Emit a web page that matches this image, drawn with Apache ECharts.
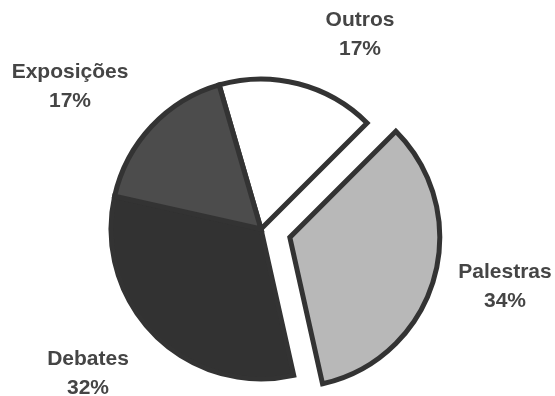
<!DOCTYPE html>
<html>
<head>
<meta charset="utf-8">
<script src="https://cdn.jsdelivr.net/npm/echarts@6/dist/echarts.min.js"></script>
<style>html,body{margin:0;padding:0;background:#fff}#c{width:555px;height:396px}</style>
</head>
<body>
<div id="c"></div>
<script>
var categories = ['Outros', 'Palestras', 'Debates', 'Exposições'];
var values = [17, 34, 32, 17];
var fills = ['#ffffff', '#b8b8b8', '#323232', '#4c4c4c'];
var labelPos = [[360, 35], [505, 287], [88, 374], [70, 87]];

var chart = echarts.init(document.getElementById('c'), null, {renderer: 'canvas'});
var total = values.reduce(function (a, b) { return a + b; }, 0);
var data = categories.map(function (c, i) {
  return {
    name: c,
    value: values[i],
    selected: c === 'Palestras',
    itemStyle: {color: fills[i]}
  };
});
var labels = categories.map(function (c, i) {
  return {
    type: 'text',
    x: labelPos[i][0],
    y: labelPos[i][1],
    style: {
      text: c + '\n' + Math.round(values[i] / total * 100) + '%',
      fontFamily: 'Liberation Sans, Arial, sans-serif',
      fontWeight: 'bold',
      fontSize: 21,
      lineHeight: 29,
      fill: '#454545',
      align: 'center',
      verticalAlign: 'middle'
    }
  };
});
chart.setOption({
  animation: false,
  backgroundColor: '#fff',
  graphic: labels,
  series: [{
    type: 'pie',
    center: [261, 229],
    radius: 150,
    startAngle: 106.2,
    clockwise: true,
    selectedMode: 'single',
    selectedOffset: 30,
    data: data,
    itemStyle: {borderColor: '#333', borderWidth: 5, borderJoin: 'miter'},
    emphasis: {disabled: true},
    label: {show: false},
    labelLine: {show: false}
  }]
});
</script>
</body>
</html>
